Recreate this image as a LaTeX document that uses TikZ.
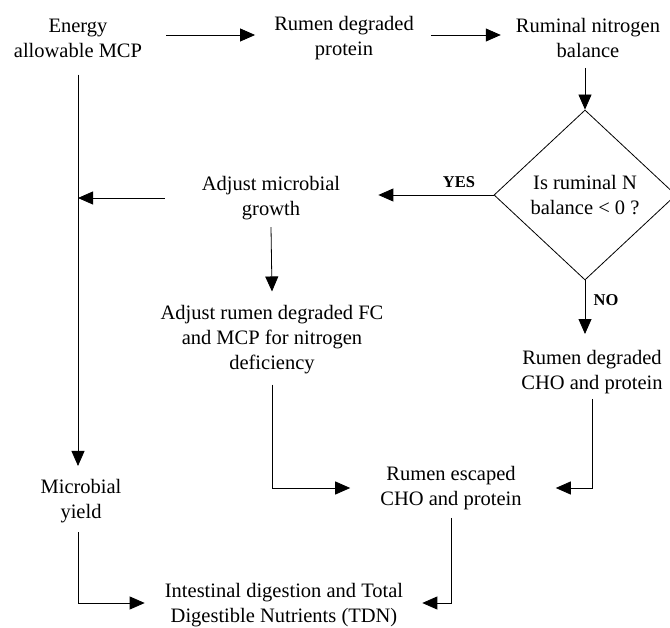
\documentclass[tikz,border=0pt]{standalone}
\usepackage{fontspec}
\setmainfont{Liberation Serif}
\usetikzlibrary{arrows.meta,shapes.geometric}
\begin{document}
\begin{tikzpicture}[x=1pt,y=-1pt,
  txt/.style={align=center,inner sep=0pt,font=\fontsize{20.5}{25}\selectfont},
  lbl/.style={inner sep=0pt,font=\fontsize{16.5}{20}\selectfont\bfseries},
  decision/.style={diamond,draw,line width=0.8pt,inner sep=0pt,align=center,
     minimum width=182pt,minimum height=170pt,font=\fontsize{20.5}{25}\selectfont},
  arr/.style={-{Triangle[length=15pt,width=13pt]},line width=0.8pt},
  ln/.style={line width=0.8pt}]
\fill[white] (0,0) rectangle (670,628);
\useasboundingbox (0,0) rectangle (670,628);
% nodes
\node[txt] (energy) at (78,38) {Energy\\allowable MCP};
\node[txt] (rdp) at (344,38) {Rumen degraded\\protein};
\node[txt] (rnb) at (588,38) {Ruminal nitrogen\\balance};
\node[decision] (dec) at (585,195) {Is ruminal N\\balance < 0 ?};
\node[lbl] (yes) at (459,182) {YES};
\node[lbl] (no) at (606,300) {NO};
\node[txt] (adj) at (271,198) {Adjust microbial\\growth};
\node[txt] (adjrdf) at (272,340) {Adjust rumen degraded FC\\and MCP for nitrogen\\deficiency};
\node[txt] (rdc) at (592,372) {Rumen degraded\\CHO and protein};
\node[txt] (esc) at (451,488) {Rumen escaped\\CHO and protein};
\node[txt] (mic) at (81,501) {Microbial\\yield};
\node[txt] (tdn) at (284,605) {Intestinal digestion and Total\\Digestible Nutrients (TDN)};
% connectors
\draw[arr] ([xshift=24pt,yshift=3pt]energy.east) -- ([xshift=-19pt,yshift=3pt]rdp.west);
\draw[arr] ([xshift=17pt,yshift=3pt]rdp.east) -- ([xshift=-15pt,yshift=3pt]rnb.west);
\draw[arr] ([yshift=-10pt]rnb.south -| dec.north) -- (dec.north);
\draw[arr] ([yshift=-17pt]energy.south) -- ([yshift=13pt]energy.south |- mic.north);
\draw[arr] (dec.west) -- ([xshift=38pt]dec.west -| adj.east);
\draw[arr] ([xshift=-37pt]adj.west) -- (adj.west -| energy.south);
\draw[arr] ([yshift=-7pt]adj.south) -- ([yshift=14pt]adjrdf.north);
\draw[arr] (dec.south) -- ([yshift=16pt]rdc.north -| dec.south);
\draw[arr] ([yshift=-10pt]adjrdf.south) |- ([xshift=-30pt]esc.west);
\draw[arr] ([yshift=-5pt]rdc.south) |- ([xshift=34pt]esc.east);
\draw[arr] ([yshift=-8pt]esc.south) |- ([xshift=19pt,yshift=2pt]tdn.east);
\draw[arr] ([yshift=-9pt]mic.south -| energy.south) |- ([xshift=-20pt,yshift=2pt]tdn.west);
\end{tikzpicture}
\end{document}
